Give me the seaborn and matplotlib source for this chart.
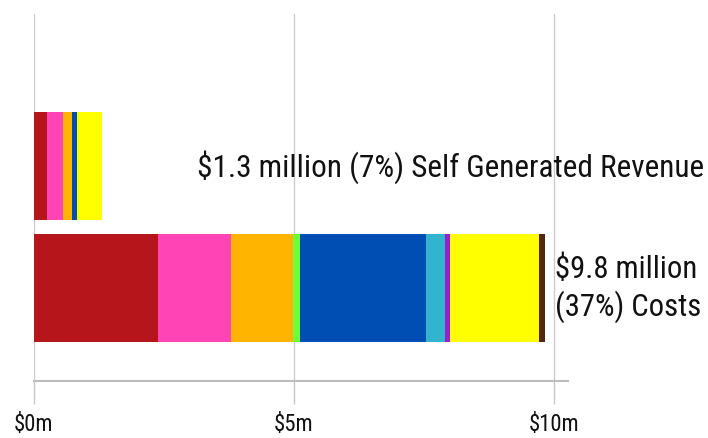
import numpy as np
import pandas as pd
import matplotlib
matplotlib.use("Agg")
import matplotlib.pyplot as plt
import seaborn as sns

# ---- data ----
bars = ["Self Generated Revenue", "Costs"]
components = ["Component 1", "Component 2", "Component 3", "Component 4", "Component 5",
              "Component 6", "Component 7", "Component 8", "Component 9"]
revenue = [0.26, 0.31, 0.17, 0.0, 0.10, 0.0, 0.0, 0.47, 0.0]
costs = [2.39, 1.40, 1.19, 0.15, 2.42, 0.35, 0.10, 1.71, 0.12]
colors = ["#B7151C", "#FF44B5", "#FFB400", "#6EFF3A", "#004DB4",
          "#33B4CE", "#9B1EC8", "#FFFF00", "#53260F"]
tick_values = [0, 5, 10]
tick_labels = ["$0m", "$5m", "$10m"]
revenue_label = "$1.3 million (7%) Self Generated Revenue"
costs_label = "$9.8 million\n(37%) Costs"

sns.set_style("white")
plt.rcParams["font.family"] = ["Noto Sans Condensed", "Roboto Condensed",
                               "Open Sans Condensed", "Liberation Sans Narrow",
                               "Noto Sans", "DejaVu Sans"]
plt.rcParams["font.stretch"] = "condensed"

fig = plt.figure(figsize=(7.08, 4.39), dpi=100)
ax = fig.add_axes([33.7 / 708, 57 / 439, (568 - 33.7) / 708, 367 / 439])

values = np.array([revenue, costs])          # shape (2, 9)
cum = np.cumsum(values, axis=1)

for i in reversed(range(len(components))):
    df = pd.DataFrame({"bar": bars, "value": cum[:, i]})
    sns.barplot(data=df, x="value", y="bar", orient="h", color=colors[i],
                saturation=1, width=0.885, errorbar=None, linewidth=0, ax=ax,
                zorder=2)

ax.set_xlim(0, (568 - 33.7) / 52)
ax.set_ylim(1.762, -1.246)
ax.set_xlabel("")
ax.set_ylabel("")
ax.set_yticks([])
ax.set_xticks(tick_values)
ax.set_xticklabels(tick_labels)
ax.grid(axis="x", color="#cccccc", linewidth=1, zorder=0)
ax.grid(axis="y", visible=False)
ax.set_axisbelow(True)
for s in ["top", "left", "right"]:
    ax.spines[s].set_visible(False)
ax.spines["bottom"].set_color("#bdbdbd")
ax.spines["bottom"].set_linewidth(1.5)
ax.tick_params(axis="x", length=16.5, width=1, color="#c8c8c8", pad=6,
               labelsize=16, labelcolor="#111111", bottom=True)

t1 = ax.text(3.14, 0, revenue_label, ha="left", va="center", fontsize=22,
             color="#111111", clip_on=False)
t2 = ax.text(10.02, 1, costs_label, ha="left", va="center", fontsize=22,
             color="#111111", linespacing=1.25, clip_on=False)

# fit text sizes to the widths seen in the reference (whatever font is found)
fig.canvas.draw()
r = fig.canvas.get_renderer()
for t, target in [(t1, 508), (t2, 146)]:
    w = t.get_window_extent(r).width
    t.set_fontsize(t.get_fontsize() * target / w)
lab = ax.get_xticklabels()[-1]
w = lab.get_window_extent(r).width
ax.tick_params(axis="x", labelsize=16 * 51 / w)

fig.savefig("out.png", dpi=100)
